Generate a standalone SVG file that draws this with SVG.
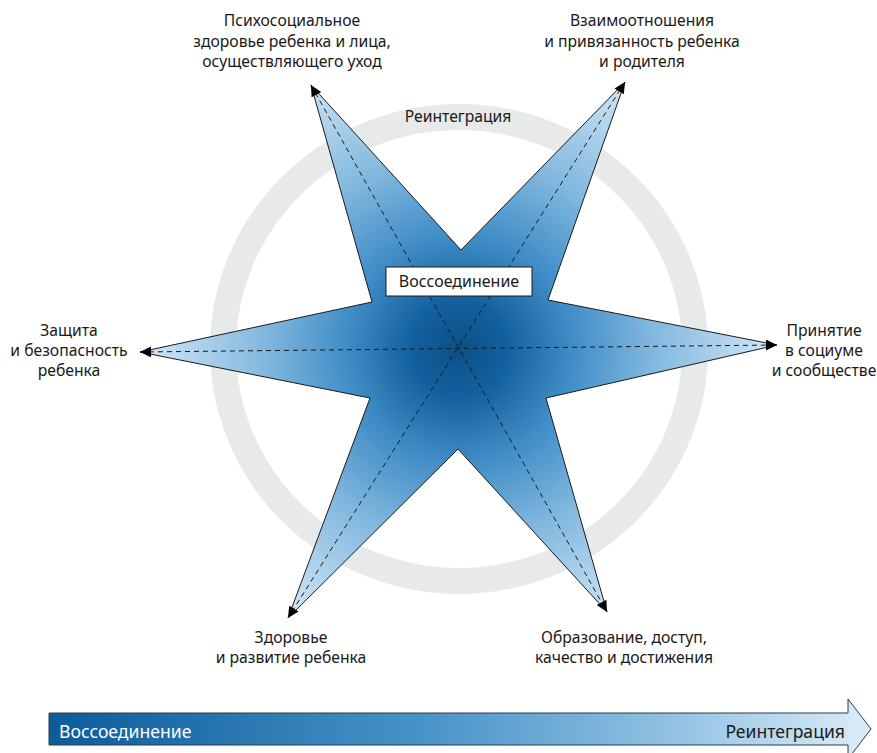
<svg xmlns="http://www.w3.org/2000/svg" width="877" height="753" viewBox="0 0 877 753">
<style>
.lbl{font-family:"Noto Sans","Open Sans","Liberation Sans",sans-serif;font-size:15.7px;fill:#1a1a1a;text-anchor:middle}
.dash{stroke:#1a1a1a;stroke-width:1;stroke-dasharray:5 4;fill:none;marker-start:url(#ah);marker-end:url(#ah)}
</style>
<defs>
<radialGradient id="starG" gradientUnits="userSpaceOnUse" cx="459" cy="349" r="320">
<stop offset="0" stop-color="#0a5089"/>
<stop offset="0.15" stop-color="#13609e"/>
<stop offset="0.35" stop-color="#3f8cc6"/>
<stop offset="0.6" stop-color="#80b7de"/>
<stop offset="1" stop-color="#d6e9f7"/>
</radialGradient>
<linearGradient id="barG" x1="0" y1="0" x2="1" y2="0">
<stop offset="0" stop-color="#0c5c9a"/>
<stop offset="0.45" stop-color="#4792c8"/>
<stop offset="0.75" stop-color="#8fc0e2"/>
<stop offset="1" stop-color="#dcedf9"/>
</linearGradient>
<marker id="ah" viewBox="0 0 10 10" refX="10" refY="5" markerUnits="userSpaceOnUse" markerWidth="13" markerHeight="11" orient="auto-start-reverse">
<path d="M0,0 L10,5 L0,10 z" fill="#000"/>
</marker>
</defs>
<rect width="877" height="753" fill="#fff"/>
<g id="ring">
<ellipse cx="459" cy="349" rx="236" ry="232" fill="none" stroke="#e8e9e9" stroke-width="26"/>
<text class="lbl" x="458" y="122">Реинтеграция</text>
</g>
<g id="star">
<polygon points="311,85 461,250 625,82 548,300 777,345 546,398 607,612 458,449 288,618 370,398 140,352 372,302" fill="url(#starG)" stroke="#1a1a1a" stroke-width="1" stroke-linejoin="miter"/>
</g>
<g id="connectors">
<line class="dash" x1="311" y1="85" x2="607" y2="612"/>
<line class="dash" x1="625" y1="82" x2="288" y2="618"/>
<line class="dash" x1="140" y1="352" x2="777" y2="345"/>
</g>
<g id="center-box">
<rect x="386" y="267" width="146" height="29" fill="#fff" stroke="#1a1a1a" stroke-width="1"/>
<text class="lbl" x="459" y="287" style="font-size:16px">Воссоединение</text>
</g>
<g id="node-psycho">
<text class="lbl" x="292" y="26">Психосоциальное</text>
<text class="lbl" x="292" y="47">здоровье ребенка и лица,</text>
<text class="lbl" x="292" y="67">осуществляющего уход</text>
</g>
<g id="node-relations">
<text class="lbl" x="642" y="26">Взаимоотношения</text>
<text class="lbl" x="642" y="47">и привязанность ребенка</text>
<text class="lbl" x="642" y="67">и родителя</text>
</g>
<g id="node-safety">
<text class="lbl" x="69" y="336">Защита</text>
<text class="lbl" x="69" y="356">и безопасность</text>
<text class="lbl" x="69" y="376">ребенка</text>
</g>
<g id="node-acceptance">
<text class="lbl" x="824" y="336">Принятие</text>
<text class="lbl" x="824" y="356">в социуме</text>
<text class="lbl" x="824" y="376">и сообществе</text>
</g>
<g id="node-health">
<text class="lbl" x="291" y="643">Здоровье</text>
<text class="lbl" x="291" y="663">и развитие ребенка</text>
</g>
<g id="node-education">
<text class="lbl" x="624" y="643">Образование, доступ,</text>
<text class="lbl" x="624" y="663">качество и достижения</text>
</g>
<g id="progress-arrow">
<polygon points="49,713 848,713 848,699 871,729 848,759 848,745 49,745" fill="url(#barG)" stroke="#2a3a4a" stroke-width="1"/>
<text x="59" y="738" style="font-family:'Noto Sans','Open Sans','Liberation Sans',sans-serif;font-size:17.6px;fill:#fff">Воссоединение</text>
<text x="845" y="738" style="font-family:'Noto Sans','Open Sans','Liberation Sans',sans-serif;font-size:17.6px;fill:#1a1a1a;text-anchor:end">Реинтеграция</text>
</g>
</svg>
